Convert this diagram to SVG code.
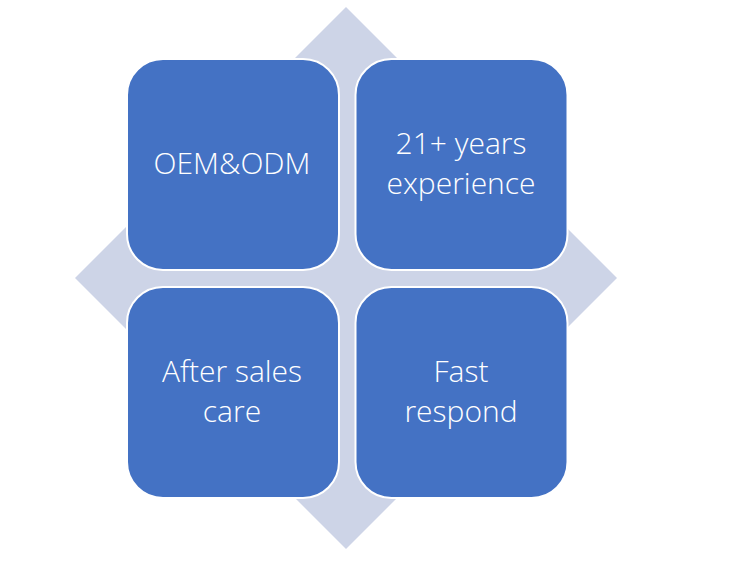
<svg xmlns="http://www.w3.org/2000/svg" width="729" height="562" viewBox="0 0 729 562">
<style>
.box{fill:#4472C4;stroke:#ffffff;stroke-width:2}
.lbl{fill:#ffffff;font-family:"Open Sans","Noto Sans",sans-serif;font-size:30px;font-weight:300;text-anchor:middle}
</style>
<rect width="729" height="562" fill="#ffffff"/>
<polygon points="346,7 617,278 346,549 75,278" fill="#CDD4E7"/>
<g id="oem">
<rect class="box" x="127" y="59" width="212" height="211" rx="36"/>
<text class="lbl" x="232" y="174">OEM&amp;ODM</text>
</g>
<g id="years">
<rect class="box" x="355.500" y="59" width="212" height="211" rx="36"/>
<text class="lbl" x="461" y="154">21+ years</text>
<text class="lbl" x="461" y="194">experience</text>
</g>
<g id="aftersales">
<rect class="box" x="127" y="287" width="212" height="211" rx="36"/>
<text class="lbl" x="232" y="382">After sales</text>
<text class="lbl" x="232" y="422">care</text>
</g>
<g id="fast">
<rect class="box" x="355.500" y="287" width="212" height="211" rx="36"/>
<text class="lbl" x="461" y="382">Fast</text>
<text class="lbl" x="461" y="422">respond</text>
</g>
<g id="connectors"></g>
</svg>
